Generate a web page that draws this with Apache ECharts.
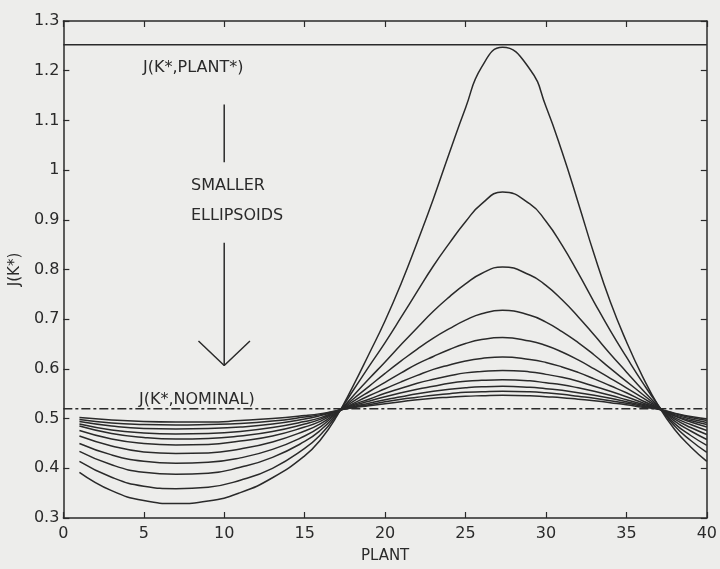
<!DOCTYPE html>
<html>
<head>
<meta charset="utf-8">
<script src="https://cdn.jsdelivr.net/npm/echarts@6/dist/echarts.min.js"></script>
<style>
  html, body { margin: 0; padding: 0; background: #ededeb; }
  #chart { width: 720px; height: 569px; }
</style>
</head>
<body>
<div id="chart"></div>
<script>
// plant index where each curve was read (27.3 = where the curves peak)
var plantX = [1, 3, 5, 7, 9, 11, 13, 15, 16, 17, 18, 19, 20, 21, 22, 23, 24,
              25, 26, 27.3, 29, 30, 31, 32, 33, 34, 35, 36, 37, 38, 39, 40];

// J(K*) for each ellipsoid, largest first
var ellipsoid1  = [0.392, 0.355, 0.335, 0.329, 0.334, 0.351, 0.381, 0.425, 0.458, 0.505, 0.565, 0.630, 0.697, 0.772, 0.855, 0.942, 1.035,
                   1.125, 1.207, 1.247, 1.203, 1.128, 1.037, 0.935, 0.830, 0.735, 0.655, 0.585, 0.525, 0.478, 0.443, 0.414];
var ellipsoid2  = [0.414, 0.382, 0.364, 0.359, 0.362, 0.376, 0.400, 0.440, 0.468, 0.507, 0.556, 0.605, 0.653, 0.704, 0.756, 0.807, 0.853,
                   0.896, 0.932, 0.956, 0.932, 0.897, 0.849, 0.793, 0.734, 0.677, 0.624, 0.573, 0.526, 0.485, 0.456, 0.432];
var ellipsoid3  = [0.434, 0.407, 0.392, 0.388, 0.390, 0.402, 0.422, 0.454, 0.477, 0.509, 0.545, 0.580, 0.614, 0.649, 0.683, 0.716, 0.745,
                   0.771, 0.792, 0.805, 0.789, 0.768, 0.739, 0.705, 0.668, 0.630, 0.594, 0.558, 0.524, 0.490, 0.466, 0.446];
var ellipsoid4  = [0.450, 0.427, 0.414, 0.410, 0.412, 0.421, 0.438, 0.465, 0.484, 0.511, 0.539, 0.565, 0.591, 0.616, 0.640, 0.662, 0.681,
                   0.698, 0.711, 0.718, 0.708, 0.694, 0.675, 0.653, 0.628, 0.601, 0.575, 0.549, 0.523, 0.495, 0.475, 0.458];
var ellipsoid5  = [0.465, 0.445, 0.433, 0.430, 0.431, 0.439, 0.453, 0.475, 0.490, 0.512, 0.534, 0.554, 0.573, 0.592, 0.610, 0.625, 0.639,
                   0.651, 0.659, 0.663, 0.656, 0.647, 0.634, 0.618, 0.600, 0.581, 0.562, 0.542, 0.522, 0.499, 0.482, 0.468];
var ellipsoid6  = [0.476, 0.459, 0.450, 0.447, 0.448, 0.455, 0.465, 0.483, 0.495, 0.513, 0.530, 0.546, 0.560, 0.574, 0.587, 0.599, 0.608,
                   0.616, 0.621, 0.624, 0.619, 0.613, 0.604, 0.593, 0.580, 0.566, 0.552, 0.536, 0.521, 0.502, 0.488, 0.476];
var ellipsoid7  = [0.485, 0.470, 0.462, 0.459, 0.460, 0.465, 0.474, 0.489, 0.499, 0.514, 0.528, 0.539, 0.551, 0.561, 0.571, 0.579, 0.586,
                   0.592, 0.595, 0.597, 0.594, 0.589, 0.583, 0.575, 0.565, 0.555, 0.544, 0.532, 0.520, 0.505, 0.493, 0.483];
var ellipsoid8  = [0.489, 0.477, 0.471, 0.469, 0.470, 0.474, 0.482, 0.494, 0.502, 0.515, 0.526, 0.535, 0.544, 0.552, 0.559, 0.565, 0.571,
                   0.575, 0.577, 0.578, 0.576, 0.572, 0.568, 0.562, 0.555, 0.547, 0.538, 0.529, 0.520, 0.506, 0.496, 0.488];
var ellipsoid9  = [0.494, 0.485, 0.480, 0.479, 0.480, 0.483, 0.489, 0.499, 0.506, 0.515, 0.524, 0.531, 0.538, 0.544, 0.550, 0.555, 0.559,
                   0.562, 0.564, 0.565, 0.563, 0.560, 0.557, 0.552, 0.547, 0.541, 0.534, 0.527, 0.520, 0.508, 0.499, 0.492];
var ellipsoid10 = [0.498, 0.491, 0.488, 0.487, 0.488, 0.490, 0.495, 0.503, 0.508, 0.516, 0.523, 0.528, 0.534, 0.539, 0.543, 0.547, 0.550,
                   0.553, 0.554, 0.555, 0.554, 0.552, 0.549, 0.545, 0.541, 0.536, 0.531, 0.525, 0.519, 0.510, 0.502, 0.496];
var ellipsoid11 = [0.502, 0.497, 0.494, 0.493, 0.493, 0.496, 0.500, 0.506, 0.510, 0.516, 0.522, 0.526, 0.530, 0.534, 0.538, 0.541, 0.543,
                   0.545, 0.546, 0.547, 0.546, 0.544, 0.542, 0.539, 0.536, 0.532, 0.528, 0.523, 0.519, 0.511, 0.504, 0.499];

var ellipsoids = [ellipsoid1, ellipsoid2, ellipsoid3, ellipsoid4, ellipsoid5, ellipsoid6,
                  ellipsoid7, ellipsoid8, ellipsoid9, ellipsoid10, ellipsoid11];

// reference levels
var plantStarLevel = 1.252;
var nominalLevel = 0.52;

// arrow ("smaller ellipsoids"), in plant / J units
var arrowShaftTop = [[10, 1.132], [10, 1.016]];
var arrowShaftBottom = [[10, 0.854], [10, 0.607]];
var arrowHead = [[8.4, 0.656], [10, 0.607], [11.6, 0.656]];

var xTicks = [0, 40, 5];
var yTicks = [0.3, 1.3, 0.1];

var ink = '#2a2a2a';
var font = 'DejaVu Sans';

var chart = echarts.init(document.getElementById('chart'));

function pairs(ys) {
    var out = [];
    for (var i = 0; i < plantX.length; i++) out.push([plantX[i], ys[i]]);
    return out;
}

function segment(data, z, type) {
    return {
        type: 'line', data: data, symbol: 'none', silent: true, z: z || 2,
        lineStyle: { color: ink, width: 1.5, type: type || 'solid' }
    };
}

var series = [];
ellipsoids.forEach(function (ys) {
    var s = segment(pairs(ys));
    s.smooth = 0.5;
    series.push(s);
});
series.push(segment([[xTicks[0], plantStarLevel], [xTicks[1], plantStarLevel]]));
series.push(segment([[xTicks[0], nominalLevel], [xTicks[1], nominalLevel]], 3, [9, 3, 3, 3]));
series.push(segment(arrowShaftTop));
series.push(segment(arrowShaftBottom));
series.push(segment(arrowHead));

var labelStyle = { fontSize: 16, fontFamily: font, color: ink };

function axisX(pos, labels) {
    return {
        type: 'value', position: pos, min: xTicks[0], max: xTicks[1], interval: xTicks[2],
        axisLine: { onZero: false, lineStyle: { color: ink, width: 1.5 } },
        axisTick: { inside: true, length: 6, lineStyle: { color: ink, width: 1.2 } },
        axisLabel: labels ? Object.assign({ margin: 8 }, labelStyle) : { show: false },
        splitLine: { show: false }
    };
}
function axisY(pos, labels) {
    return {
        type: 'value', position: pos, min: yTicks[0], max: yTicks[1], interval: yTicks[2],
        axisLine: { onZero: false, lineStyle: { color: ink, width: 1.5 } },
        axisTick: { inside: true, length: 6, lineStyle: { color: ink, width: 1.2 } },
        axisLabel: labels ? Object.assign({ margin: 4 }, labelStyle) : { show: false },
        splitLine: { show: false }
    };
}

var xMain = axisX('bottom', true);
xMain.name = 'PLANT';
xMain.nameLocation = 'middle';
xMain.nameGap = 31;
xMain.nameTextStyle = { fontSize: 15, fontFamily: font, color: ink };
var yMain = axisY('left', true);
yMain.name = 'J(K*)';
yMain.nameLocation = 'middle';
yMain.nameGap = 31;
yMain.nameTextStyle = { fontSize: 15, fontFamily: font, color: ink };

var textStyle = { fill: ink, fontSize: 16, fontFamily: font };
function note(txt, left, top) {
    return { type: 'text', left: left, top: top, silent: true,
             style: Object.assign({ text: txt }, textStyle) };
}

chart.setOption({
    backgroundColor: '#ededeb',
    animation: false,
    grid: { left: 59, right: 6, top: 21, bottom: 41 },
    xAxis: [xMain, axisX('top', false)],
    yAxis: [yMain, axisY('right', false)],
    series: series,
    graphic: [
        note('J(K*,PLANT*)', 143, 60),
        note('SMALLER', 191, 178),
        note('ELLIPSOIDS', 191, 208),
        note('J(K*,NOMINAL)', 139, 392)
    ]
});
</script>
</body>
</html>
